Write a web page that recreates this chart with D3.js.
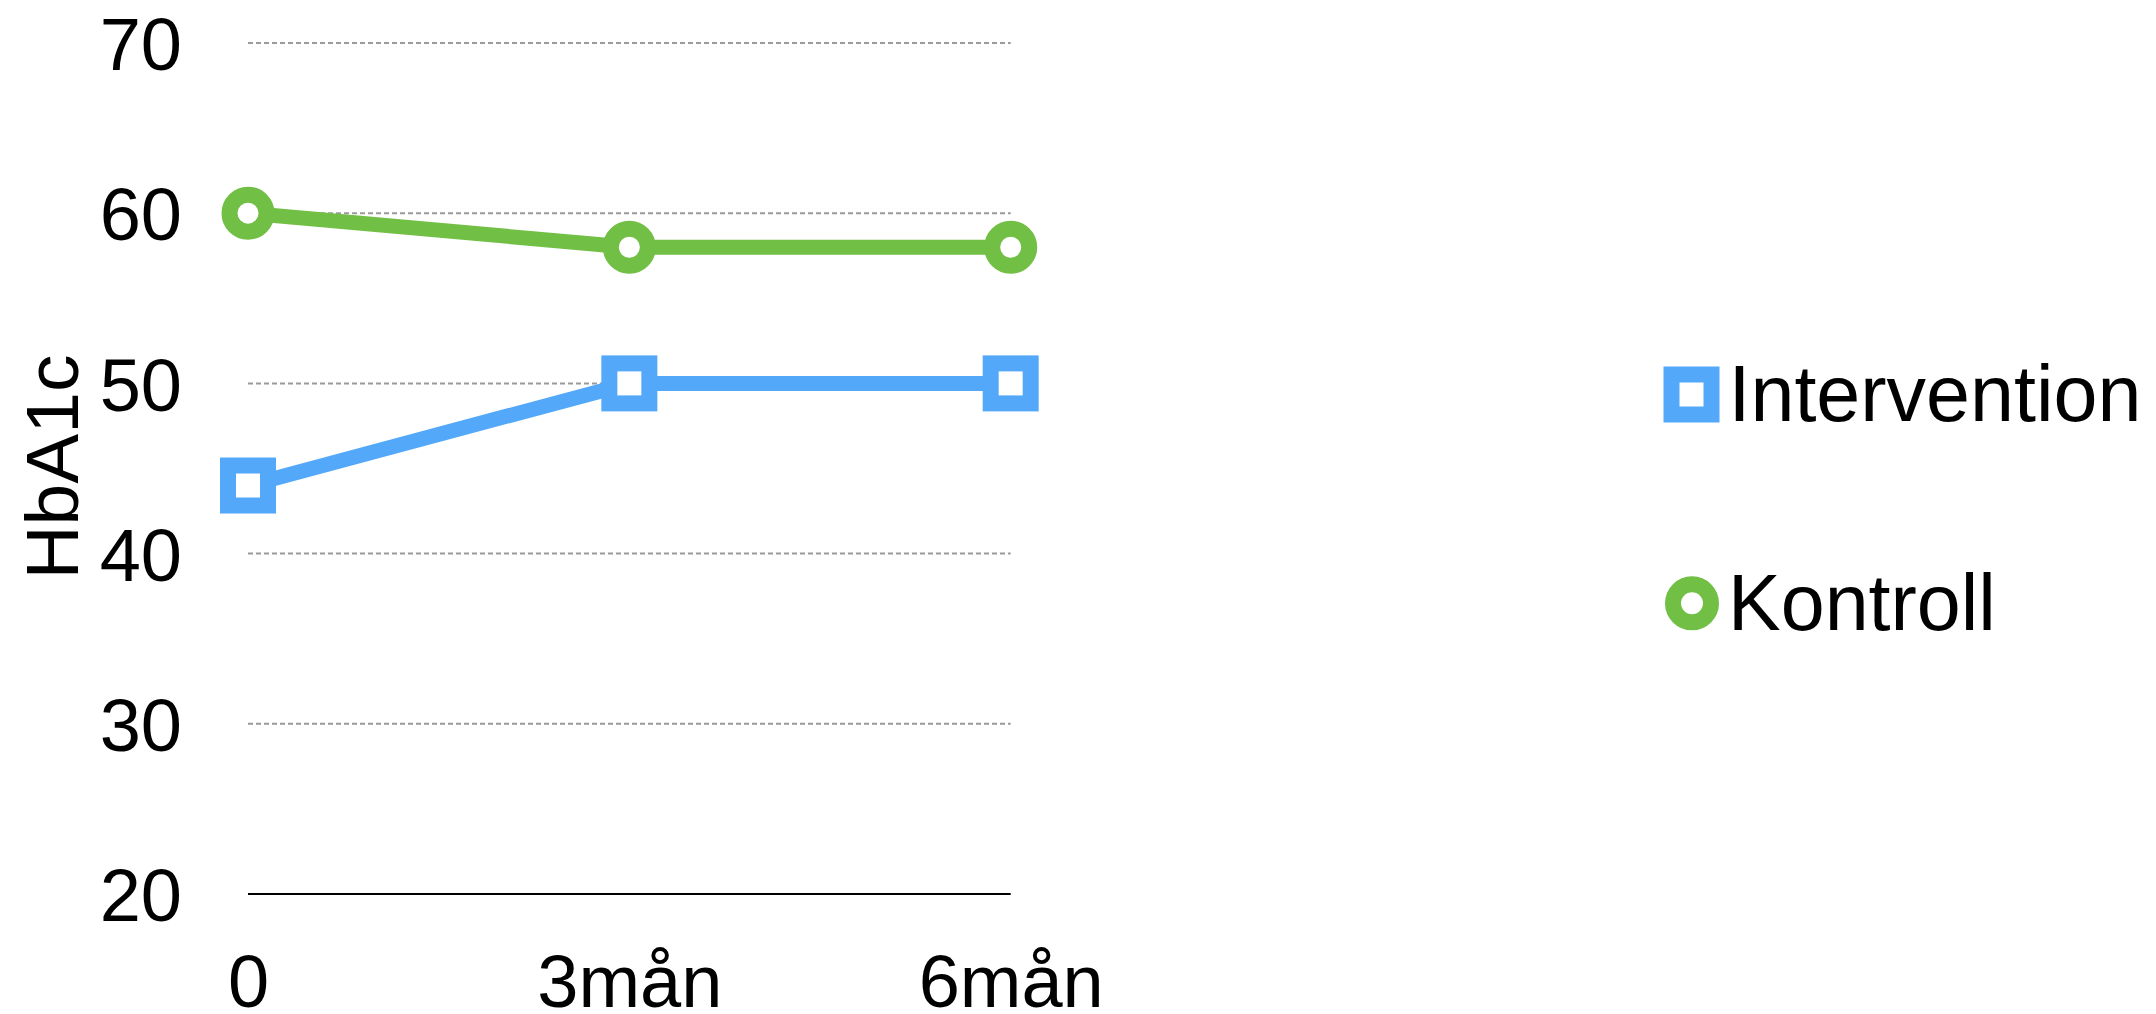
<!DOCTYPE html>
<html>
<head>
<meta charset="utf-8">
<script src="https://cdn.jsdelivr.net/npm/d3@7"></script>
<style>
  html, body { margin: 0; padding: 0; background: #ffffff; }
  svg { display: block; font-family: "Liberation Sans", Arial, Helvetica, sans-serif; }
</style>
</head>
<body>
<svg id="chart" width="2156" height="1014"></svg>
<script>
// Time points and HbA1c measurements per group
const categories = ["0", "3mån", "6mån"];
const interventionValues = [44, 50, 50];
const kontrollValues = [60, 58, 58];
const seriesNames = ["Intervention", "Kontroll"];
const yTicks = [20, 30, 40, 50, 60, 70];
const yLabel = "HbA1c";

const blue = "#53A8F9";
const green = "#71BF44";

const svg = d3.select("#chart");

const x = d3.scalePoint().domain(categories).range([248, 1010.7]).padding(0);
const y = d3.scaleLinear().domain([20, 70]).range([894, 43]);

// Horizontal gridlines (dashed) for every tick above the baseline
svg.append("g")
  .selectAll("line")
  .data(yTicks.filter(d => d > 20))
  .join("line")
  .attr("x1", x.range()[0])
  .attr("x2", x.range()[1])
  .attr("y1", d => y(d))
  .attr("y2", d => y(d))
  .attr("stroke", "#9a9a9a")
  .attr("stroke-width", 2)
  .attr("stroke-dasharray", "5,3");

// Baseline at the bottom of the value range
svg.append("line")
  .attr("x1", x.range()[0])
  .attr("x2", x.range()[1])
  .attr("y1", y(20))
  .attr("y2", y(20))
  .attr("stroke", "#000")
  .attr("stroke-width", 2);

// Y axis tick labels
const yAxis = d3.axisLeft(y).tickValues(yTicks).tickSize(0).tickPadding(0).tickFormat(d3.format("d"));
const gy = svg.append("g").attr("transform", "translate(182,0)").call(yAxis);
gy.select(".domain").remove();
gy.selectAll("text")
  .attr("font-size", 74)
  .attr("fill", "#000")
  .attr("font-family", "'Liberation Sans', Arial, sans-serif")
  .attr("dy", "0.36em");

// X axis category labels
const xAxis = d3.axisBottom(x).tickSize(0).tickPadding(0);
const gx = svg.append("g").attr("transform", "translate(0,1007)").call(xAxis);
gx.select(".domain").remove();
gx.selectAll("text")
  .attr("font-size", 74)
  .attr("fill", "#000")
  .attr("font-family", "'Liberation Sans', Arial, sans-serif")
  .attr("dy", 0)
  .attr("y", 0);

// Y axis title
svg.append("text")
  .attr("transform", "translate(78,467) rotate(-90)")
  .attr("text-anchor", "middle")
  .attr("font-size", 75)
  .attr("fill", "#000")
  .text(yLabel);

const line = d3.line()
  .x((d, i) => x(categories[i]))
  .y(d => y(d));

// Series lines
svg.append("path")
  .datum(interventionValues)
  .attr("d", line)
  .attr("fill", "none")
  .attr("stroke", blue)
  .attr("stroke-width", 15);

svg.append("path")
  .datum(kontrollValues)
  .attr("d", line)
  .attr("fill", "none")
  .attr("stroke", green)
  .attr("stroke-width", 15);

// Markers: hollow squares for Intervention, hollow circles for Kontroll
svg.append("g")
  .selectAll("rect")
  .data(interventionValues)
  .join("rect")
  .attr("x", (d, i) => x(categories[i]) - 20)
  .attr("y", d => y(d) - 20)
  .attr("width", 40)
  .attr("height", 40)
  .attr("fill", "#fff")
  .attr("stroke", blue)
  .attr("stroke-width", 16);

svg.append("g")
  .selectAll("circle")
  .data(kontrollValues)
  .join("circle")
  .attr("cx", (d, i) => x(categories[i]))
  .attr("cy", d => y(d))
  .attr("r", 18.5)
  .attr("fill", "#fff")
  .attr("stroke", green)
  .attr("stroke-width", 16);

// Legend
const legend = svg.append("g");
const li = legend.append("g").attr("transform", "translate(1691.5,394.5)");
li.append("rect")
  .attr("x", -20).attr("y", -20).attr("width", 40).attr("height", 40)
  .attr("fill", "#fff").attr("stroke", blue).attr("stroke-width", 16);
li.append("text")
  .attr("x", 37).attr("y", 26.5)
  .attr("font-size", 79).attr("fill", "#000")
  .text(seriesNames[0]);

const lk = legend.append("g").attr("transform", "translate(1692,603.3)");
lk.append("circle")
  .attr("r", 19)
  .attr("fill", "#fff").attr("stroke", green).attr("stroke-width", 16);
lk.append("text")
  .attr("x", 36).attr("y", 26.5)
  .attr("font-size", 79).attr("fill", "#000")
  .text(seriesNames[1]);
</script>
</body>
</html>
